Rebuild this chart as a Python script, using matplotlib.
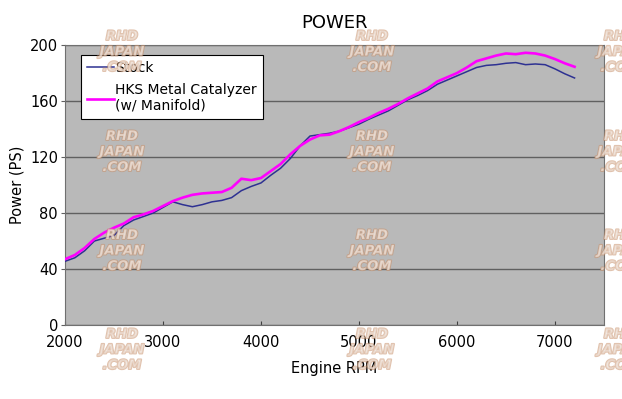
import matplotlib
matplotlib.use("Agg")
import matplotlib.pyplot as plt
import matplotlib.patheffects as pe

rpm = [2000, 2100, 2200, 2300, 2400, 2500, 2600, 2700, 2800, 2900,
       3000, 3100, 3200, 3300, 3400, 3500, 3600, 3700, 3800, 3900,
       4000, 4100, 4200, 4300, 4400, 4500, 4600, 4700, 4800, 4900,
       5000, 5100, 5200, 5300, 5400, 5500, 5600, 5700, 5800, 5900,
       6000, 6100, 6200, 6300, 6400, 6500, 6600, 6700, 6800, 6900,
       7000, 7100, 7200]

stock = [45.5, 48, 53, 60, 62, 64, 71, 75, 77.5, 80,
         84, 88, 86, 84.5, 86, 88, 89, 91, 96, 99,
         101.5, 107, 112, 119, 128, 135, 136, 137, 138.5, 141,
         143.5, 147, 150, 153, 157, 161, 164, 167.5, 172, 175,
         178, 181, 184, 185.5, 186, 187, 187.5, 186, 186.5, 186,
         183, 179.5, 176.5]

hks = [47, 50, 55, 61.5, 66, 69.5, 72.5, 77, 79, 81.5,
       85, 88.5, 91, 93, 94, 94.5, 95, 98, 104.5, 103.5,
       105, 110, 115, 122, 128, 132.5, 135.5, 136, 138.5, 141.5,
       145, 148, 151.5, 154.5, 158, 162, 165.5, 169, 174, 177,
       180, 184, 188.5, 190.5, 192.5, 194, 193.5, 194.5, 194, 192.5,
       190, 187, 184.5]

labels = ["Stock", "HKS Metal Catalyzer\n(w/ Manifold)"]
x_ticks = [2000, 3000, 4000, 5000, 6000, 7000]
y_ticks = [0, 40, 80, 120, 160, 200]

fig = plt.figure(figsize=(6.22, 3.99), dpi=100)
ax = fig.add_axes([0.1045, 0.1855, 0.8665, 0.7015])
ax.set_facecolor("#b9b9b9")

ax.plot(rpm, stock, color="#2e3192", lw=1.1, label=labels[0], zorder=3)
ax.plot(rpm, hks, color="#ff00ff", lw=1.9, label=labels[1], zorder=4)

ax.set_xlim(2000, 7500)
ax.set_ylim(0, 200)
ax.set_xticks(x_ticks)
ax.set_yticks(y_ticks)
ax.yaxis.grid(True, color="#606060", lw=1.0)
ax.set_axisbelow(True)
for s in ax.spines.values():
    s.set_color("#707070")
ax.tick_params(axis="x", direction="in", length=3, color="#404040", labelsize=10.5, pad=7)
ax.tick_params(axis="y", direction="out", length=3, color="#606060", labelsize=10.5, pad=2)

ax.set_title("POWER", fontsize=13, pad=12)
ax.set_xlabel("Engine RPM", fontsize=10.5, labelpad=8)
ax.set_ylabel("Power (PS)", fontsize=10.5, labelpad=4)

leg = ax.legend(loc="upper left", bbox_to_anchor=(0.03, 0.965), borderaxespad=0,
                fancybox=False, edgecolor="black", framealpha=1, fontsize=10,
                handlelength=1.9, handletextpad=0.1, borderpad=0.45, labelspacing=0.55)
leg.get_frame().set_linewidth(0.8)

# watermark
wm_x = [122, 372, 620]
wm_y = [52, 152, 251, 350]
for px in wm_x:
    for py in wm_y:
        fig.text(px / 622, 1 - py / 399, "RHD\nJAPAN\n.COM", ha="center", va="center",
                 fontsize=9.5, fontweight="bold", style="italic", color="#f4ece6",
                 alpha=0.55, linespacing=1.25, zorder=10,
                 path_effects=[pe.withStroke(linewidth=1.4, foreground="#c8906a")])

fig.savefig("out.png", dpi=100)
